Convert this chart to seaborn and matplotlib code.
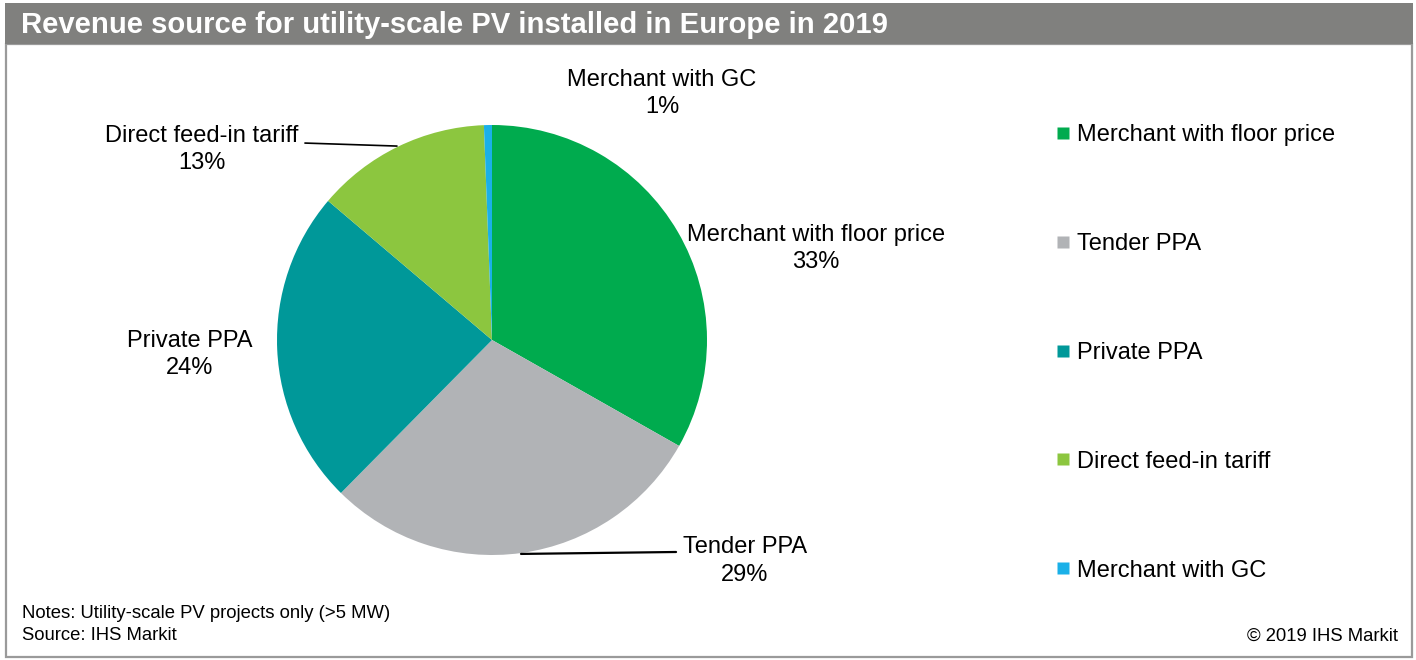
import matplotlib
matplotlib.use("Agg")
import matplotlib.pyplot as plt
from matplotlib.patches import Rectangle
from matplotlib.lines import Line2D
import seaborn as sns

categories = ["Merchant with floor price", "Tender PPA", "Private PPA",
              "Direct feed-in tariff", "Merchant with GC"]
shares = [33.2, 29.2, 23.8, 13.2, 0.6]
colors = ["#00AB4E", "#B1B3B6", "#009899", "#8CC63F", "#1AB0E8"]
title = "Revenue source for utility-scale PV installed in Europe in 2019"
notes = "Notes: Utility-scale PV projects only (>5 MW)"
source = "Source: IHS Markit"
copyright_txt = "\u00a9 2019 IHS Markit"

sns.set_theme(style="white")
plt.rcParams["font.family"] = ["Liberation Sans", "DejaVu Sans"]
plt.rcParams["text.color"] = "black"

W, H = 1416, 660
fig = plt.figure(figsize=(W / 100, H / 100), dpi=100)
fig.patch.set_facecolor("white")

def fx(px):
    return px / W

def fy(py):
    return 1 - py / H

# frame and title bar
fig.add_artist(Rectangle((fx(6), fy(657)), fx(1412 - 6), (657 - 44) / H,
                         transform=fig.transFigure, fill=False,
                         edgecolor="#9A9A9A", linewidth=1.6))
fig.add_artist(Rectangle((fx(5), fy(44)), fx(1413 - 5), 41 / H,
                         transform=fig.transFigure, facecolor="#80807E",
                         edgecolor="none"))
fig.text(fx(21), fy(25), title, color="white", fontsize=21.1,
         fontweight="bold", va="center", ha="left")

# pie axes: centre (492, 340), radius 215 px
R = 215
cx, cy = 492, 340
ax = fig.add_axes([fx(cx - R), fy(cy + R), 2 * R / W, 2 * R / H])
wedges, _ = ax.pie(shares, colors=colors, startangle=90, counterclock=False,
                   radius=1, wedgeprops=dict(linewidth=0))
ax.set_xlim(-1, 1)
ax.set_ylim(-1, 1)
ax.set_aspect("equal")
ax.axis("off")

# data labels
label_pos = [(1.507, 0.425), (1.177, -1.028), (-1.405, -0.068),
             (-1.349, 0.885), (0.791, 1.148)]
for cat, val, (lx, ly) in zip(categories, shares, label_pos):
    ax.text(lx, ly, f"{cat}\n{val:.0f}%", ha="center", va="center",
            fontsize=17, color="black", linespacing=1.3, clip_on=False)

# leader lines
ax.plot([-0.870, -0.442], [0.916, 0.902], color="black", lw=1.2, clip_on=False)
ax.plot([0.135, 0.856], [-0.995, -0.986], color="black", lw=1.6, clip_on=False)

# legend
handles = [Line2D([0], [0], marker="s", linestyle="none", markersize=8,
                  markerfacecolor=c, markeredgecolor="none") for c in colors]
leg = fig.legend(handles, categories, loc="upper left",
                 bbox_to_anchor=(fx(1057), fy(124)), frameon=False,
                 fontsize=17, handlelength=0.5, handletextpad=0.35,
                 labelspacing=3.68, borderpad=0, borderaxespad=0,
                 labelcolor="black")

# footer
fig.text(fx(22), fy(614), notes, fontsize=13.3, va="center", ha="left",
         color="black")
fig.text(fx(22), fy(636), source, fontsize=13.3, va="center", ha="left",
         color="black")
fig.text(fx(1398), fy(636), copyright_txt, fontsize=13.3, va="center",
         ha="right", color="black")

fig.savefig("out.png", dpi=100)
